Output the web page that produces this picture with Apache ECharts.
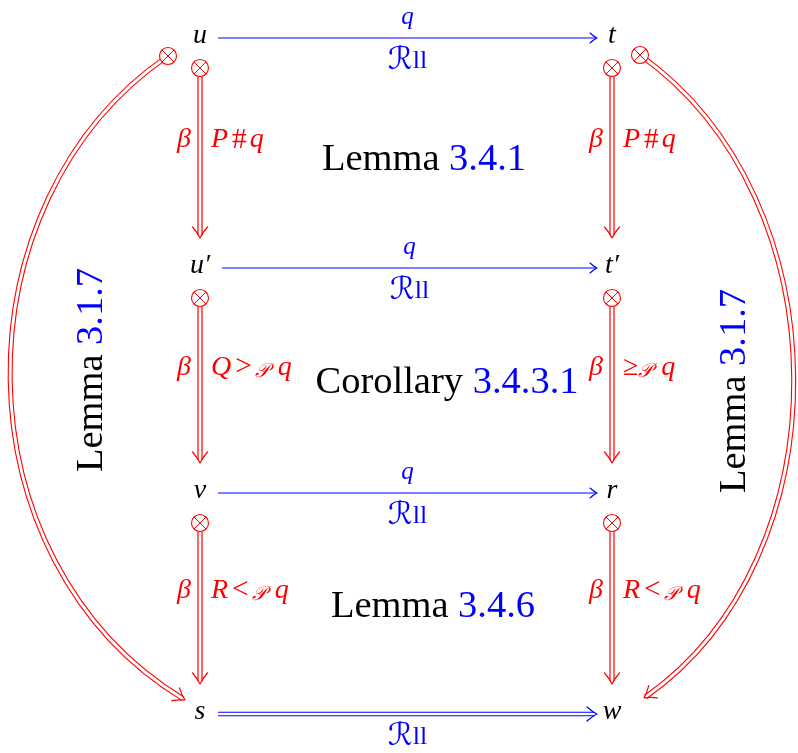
<!DOCTYPE html>
<html>
<head>
<meta charset="utf-8">
<script src="https://cdn.jsdelivr.net/npm/echarts@6/dist/echarts.min.js"></script>
<style>html,body{margin:0;padding:0;background:#fff}#c{width:798px;height:753px}</style>
</head>
<body>
<div id="c"></div>
<script>
// ---------- data ----------
const nodeNames = ['u', 't', 'u\u2032', 't\u2032', 'v', 'r', 's', 'w'];
const nodeX = [200, 612, 200, 612, 200, 612, 200, 612];
const nodeY = [38, 38, 268, 268, 493, 493, 714, 714];

const hFrom = [0, 2, 4, 6];
const hTo = [1, 3, 5, 7];
const hDouble = [0, 0, 0, 1];
const hTop = ['q', 'q', 'q', ''];
const hBottom = ['{c|\u211B}{n|ll}', '{c|\u211B}{n|ll}', '{c|\u211B}{n|ll}', '{c|\u211B}{n|ll}'];

const vFrom = [0, 2, 4, 1, 3, 5];
const vTo = [2, 4, 6, 3, 5, 7];
const vLeft = ['\u03B2', '\u03B2', '\u03B2', '\u03B2', '\u03B2', '\u03B2'];
const vRight = [
  '{i|P}{o|#}{i|q}',
  '{i|Q}{o|>}{s|\uD835\uDCAB}{i| q}',
  '{i|R}{o|<}{s|\uD835\uDCAB}{i| q}',
  '{i|P}{o|#}{i|q}',
  '{n|\u2265}{s|\uD835\uDCAB}{i| q}',
  '{i|R}{o|<}{s|\uD835\uDCAB}{i| q}'
];

const curveFrom = [0, 1];
const curveTo = [6, 7];

const faceWord = ['Lemma', 'Corollary', 'Lemma'];
const faceRef = ['3.4.1', '3.4.3.1', '3.4.6'];
const faceX = [424, 447, 433];
const faceY = [160, 383, 607];

const sideWord = ['Lemma', 'Lemma'];
const sideRef = ['3.1.7', '3.1.7'];
const sideX = [92, 735];
const sideY = [370, 391];

// ---------- styles ----------
const RED = '#ff0000', BLUE = '#0000ff';
const SERIF = '"Liberation Serif", "DejaVu Serif", serif';
const MATH = SERIF + ', "DejaVu Sans"';

function headPath(tip, dir, len, half) {
  const dx = dir[0], dy = dir[1], nx = -dy, ny = dx;
  const bx = tip[0] - dx * len, by = tip[1] - dy * len;
  const w1 = [bx + nx * half, by + ny * half];
  const w2 = [bx - nx * half, by - ny * half];
  const c1 = [tip[0] - dx * len * 0.45 + nx * half * 0.3, tip[1] - dy * len * 0.45 + ny * half * 0.3];
  const c2 = [tip[0] - dx * len * 0.45 - nx * half * 0.3, tip[1] - dy * len * 0.45 - ny * half * 0.3];
  return 'M' + w1[0] + ' ' + w1[1] + ' Q' + c1[0] + ' ' + c1[1] + ' ' + tip[0] + ' ' + tip[1] +
    ' Q' + c2[0] + ' ' + c2[1] + ' ' + w2[0] + ' ' + w2[1];
}
function head(tip, dir, len, half, color, lw) {
  return { type: 'path', shape: { pathData: headPath(tip, dir, len, half) },
    style: { stroke: color, fill: null, lineWidth: lw, lineCap: 'round', lineJoin: 'round' } };
}
function txt(x, y, text, rich, align, extra) {
  return Object.assign({ type: 'text', x: x, y: y,
    style: { text: text, rich: rich, align: align || 'center', verticalAlign: 'middle' } }, extra || {});
}
function mathRich(color, size) {
  return {
    i: { fill: color, fontSize: size, fontFamily: MATH, fontStyle: 'italic' },
    n: { fill: color, fontSize: size, fontFamily: MATH },
    o: { fill: color, fontSize: size * 1.05, fontFamily: MATH, padding: [0, 3, 0, 4] },
    c: { fill: color, fontSize: size * 1.2, fontFamily: MATH, fontStyle: 'italic' },
    s: { fill: color, fontSize: size * 0.7, fontFamily: MATH, fontStyle: 'italic', padding: [9, 2, 0, 0] }
  };
}

// ---------- series ----------
const hData = hFrom.map((f, i) => [nodeX[f], nodeY[f], nodeX[hTo[i]], nodeY[hTo[i]], i]);
const vData = vFrom.map((f, i) => [nodeX[f], nodeY[f], nodeX[vTo[i]], nodeY[vTo[i]], i]);
const cData = curveFrom.map((f, i) => [nodeX[f], nodeY[f], nodeX[curveTo[i]], nodeY[curveTo[i]], i]);
const nData = nodeNames.map((n, i) => [nodeX[i], nodeY[i], i]);
const fData = faceWord.map((w, i) => [faceX[i], faceY[i], i]);
const sData = sideWord.map((w, i) => [sideX[i], sideY[i], i]);

function horiz(params, api) {
  const i = api.value(4);
  const p1 = api.coord([api.value(0), api.value(1)]);
  const p2 = api.coord([api.value(2), api.value(3)]);
  const startGap = nodeNames[hFrom[i]].length > 1 ? 22 : 18;
  const x1 = p1[0] + startGap, x2 = p2[0] - 15, y = p1[1];
  const ch = [];
  if (hDouble[i]) {
    ch.push({ type: 'line', shape: { x1: x1, y1: y, x2: x2 - 3, y2: y }, style: { stroke: BLUE, lineWidth: 4.6 } });
    ch.push({ type: 'line', shape: { x1: x1 - 1, y1: y, x2: x2 - 1, y2: y }, style: { stroke: '#fff', lineWidth: 2.4 } });
    ch.push(head([x2, y], [1, 0], 10, 7, BLUE, 1.2));
  } else {
    ch.push({ type: 'line', shape: { x1: x1, y1: y, x2: x2 - 1, y2: y }, style: { stroke: BLUE, lineWidth: 1.1 } });
    ch.push(head([x2, y], [1, 0], 7, 5, BLUE, 1.1));
  }
  const mx = (x1 + x2) / 2;
  if (hTop[i]) ch.push(txt(mx, y - 21, '{i|' + hTop[i] + '}', mathRich(BLUE, 25)));
  ch.push(txt(mx, y + 23, hBottom[i], mathRich(BLUE, 26)));
  return { type: 'group', children: ch };
}

function crossCircle(cx, cy, r) {
  const d = r * 0.7071;
  return [
    { type: 'circle', shape: { cx: cx, cy: cy, r: r }, style: { stroke: RED, fill: '#fff', lineWidth: 1.1 } },
    { type: 'line', shape: { x1: cx - d, y1: cy - d, x2: cx + d, y2: cy + d }, style: { stroke: RED, lineWidth: 1 } },
    { type: 'line', shape: { x1: cx - d, y1: cy + d, x2: cx + d, y2: cy - d }, style: { stroke: RED, lineWidth: 1 } }
  ];
}

function vert(params, api) {
  const i = api.value(4);
  const p1 = api.coord([api.value(0), api.value(1)]);
  const p2 = api.coord([api.value(2), api.value(3)]);
  const x = p1[0], cy = p1[1] + 30, r = 8.5, tip = p2[1] - 30;
  const ch = [];
  ch.push({ type: 'line', shape: { x1: x, y1: cy + r, x2: x, y2: tip - 3 }, style: { stroke: RED, lineWidth: 5.2 } });
  ch.push({ type: 'line', shape: { x1: x, y1: cy + r - 1, x2: x, y2: tip - 1 }, style: { stroke: '#fff', lineWidth: 2.8 } });
  ch.push(head([x, tip], [0, 1], 11, 7.5, RED, 1.2));
  crossCircle(x, cy, r).forEach(e => ch.push(e));
  const ly = (cy + tip) / 2 - 13;
  ch.push(txt(x - 9, ly, '{i|' + vLeft[i] + '}', mathRich(RED, 28), 'right'));
  ch.push(txt(x + 11, ly, vRight[i], mathRich(RED, 28), 'left'));
  return { type: 'group', children: ch };
}

function curve(params, api) {
  const i = api.value(4);
  const p1 = api.coord([api.value(0), api.value(1)]);
  const p2 = api.coord([api.value(2), api.value(3)]);
  const left = i === 0;
  const s = left ? [p1[0] - 32, p1[1] + 18] : [p1[0] + 28, p1[1] + 17];
  const e = left ? [p2[0] - 15, p2[1] - 14] : [p2[0] + 32, p2[1] - 16];
  const bx = left ? Math.min(s[0], e[0]) - 213 : Math.max(s[0], e[0]) + 200;
  const c1 = [bx, s[1] + 145], c2 = [bx, e[1] - 140];
  let dx = e[0] - c2[0], dy = e[1] - c2[1];
  const L = Math.sqrt(dx * dx + dy * dy); dx /= L; dy /= L;
  const shape = { x1: s[0], y1: s[1], cpx1: c1[0], cpy1: c1[1], cpx2: c2[0], cpy2: c2[1], x2: e[0] - dx * 2, y2: e[1] - dy * 2 };
  const ch = [];
  ch.push({ type: 'bezierCurve', shape: shape, style: { stroke: RED, fill: null, lineWidth: 5 } });
  ch.push({ type: 'bezierCurve', shape: shape, style: { stroke: '#fff', fill: null, lineWidth: 2.8 } });
  ch.push(head(e, [dx, dy], 11, 7.5, RED, 1.2));
  crossCircle(s[0], s[1], 8.5).forEach(el => ch.push(el));
  return { type: 'group', children: ch };
}

function nodes(params, api) {
  const i = api.value(2);
  const p = api.coord([api.value(0), api.value(1)]);
  return txt(p[0], p[1] - 2, '{i|' + nodeNames[i] + '}', mathRich('#000', 28));
}

const wordRich = {
  k: { fill: '#000', fontSize: 38.5, fontFamily: SERIF },
  b: { fill: BLUE, fontSize: 38.5, fontFamily: SERIF }
};
function faces(params, api) {
  const i = api.value(2);
  const p = api.coord([api.value(0), api.value(1)]);
  return txt(p[0], p[1], '{k|' + faceWord[i] + ' }{b|' + faceRef[i] + '}', wordRich);
}
function sides(params, api) {
  const i = api.value(2);
  const p = api.coord([api.value(0), api.value(1)]);
  return txt(p[0], p[1], '{k|' + sideWord[i] + ' }{b|' + sideRef[i] + '}', wordRich, 'center', { rotation: Math.PI / 2 });
}

const chart = echarts.init(document.getElementById('c'), null, { renderer: 'canvas' });
const axisOff = { show: false };
chart.setOption({
  animation: false,
  backgroundColor: '#fff',
  grid: { left: 0, right: 0, top: 0, bottom: 0 },
  xAxis: { type: 'value', min: 0, max: 798, axisLine: axisOff, axisTick: axisOff, axisLabel: axisOff, splitLine: axisOff },
  yAxis: { type: 'value', min: 0, max: 753, inverse: true, axisLine: axisOff, axisTick: axisOff, axisLabel: axisOff, splitLine: axisOff },
  series: [
    { type: 'custom', renderItem: curve, data: cData, clip: false, encode: { x: [0, 2], y: [1, 3] } },
    { type: 'custom', renderItem: horiz, data: hData, clip: false, encode: { x: [0, 2], y: [1, 3] } },
    { type: 'custom', renderItem: vert, data: vData, clip: false, encode: { x: [0, 2], y: [1, 3] } },
    { type: 'custom', renderItem: nodes, data: nData, clip: false, encode: { x: 0, y: 1 } },
    { type: 'custom', renderItem: faces, data: fData, clip: false, encode: { x: 0, y: 1 } },
    { type: 'custom', renderItem: sides, data: sData, clip: false, encode: { x: 0, y: 1 } }
  ]
});
</script>
</body>
</html>
